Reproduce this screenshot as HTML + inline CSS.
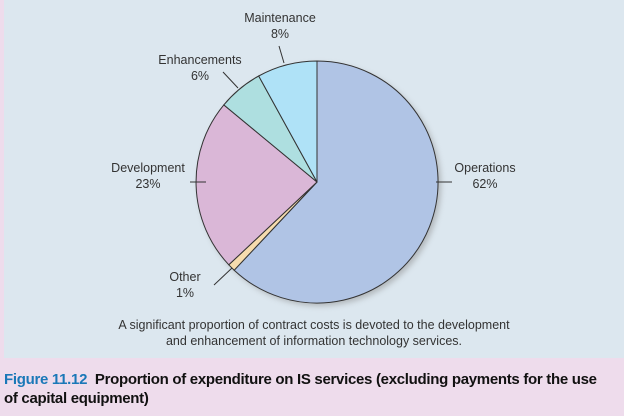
<!DOCTYPE html>
<html><head><style>
html,body{margin:0;padding:0;}
body{width:624px;height:416px;background:#eedcec;position:relative;overflow:hidden;font-family:"Liberation Sans",sans-serif;}
.panel{position:absolute;left:4px;top:0;width:620px;height:358px;background:#dce7ef;}
.t{position:absolute;font-size:12.5px;color:#333;text-align:center;line-height:16px;}
.cap{position:absolute;left:4px;width:620px;top:317px;text-align:center;font-size:12.5px;color:#333;line-height:16px;}
.fig{position:absolute;left:4px;top:370px;font-size:15px;font-weight:bold;color:#111;line-height:19px;width:640px;letter-spacing:-0.3px;white-space:nowrap;}
.fig span{color:#1a78b8;}
</style></head><body>
<div class="panel"></div>
<svg width="624" height="416" style="position:absolute;left:0;top:0">
<defs><filter id="s" x="-20%" y="-20%" width="140%" height="140%"><feGaussianBlur stdDeviation="3"/></filter></defs>
<circle cx="320" cy="185" r="121" fill="#888" opacity="0.5" filter="url(#s)"/>
<g stroke="#333" stroke-width="1">
<path d="M317,182 L317,61 A121,121 0 1 1 234.2,270.2 Z" fill="#b0c4e5"/>
<path d="M317,182 L234.2,270.2 A121,121 0 0 1 228.8,264.8 Z" fill="#f6dcae"/>
<path d="M317,182 L228.8,264.8 A121,121 0 0 1 223.8,104.9 Z" fill="#dab7d7"/>
<path d="M317,182 L223.8,104.9 A121,121 0 0 1 258.7,76 Z" fill="#aedfe0"/>
<path d="M317,182 L258.7,76 A121,121 0 0 1 317,61 Z" fill="#afe2f7"/>
<line x1="284" y1="63" x2="279" y2="46"/>
<line x1="238" y1="88" x2="223" y2="72"/>
<line x1="190" y1="182" x2="206" y2="182"/>
<line x1="436" y1="182" x2="452" y2="182"/>
<line x1="232" y1="268" x2="214" y2="285"/>
</g>
</svg>
<div class="t" style="left:230px;top:10px;width:100px">Maintenance<br>8%</div>
<div class="t" style="left:145px;top:52px;width:110px">Enhancements<br>6%</div>
<div class="t" style="left:98px;top:160px;width:100px">Development<br>23%</div>
<div class="t" style="left:440px;top:160px;width:90px">Operations<br>62%</div>
<div class="t" style="left:155px;top:269px;width:60px">Other<br>1%</div>
<div class="cap">A significant proportion of contract costs is devoted to the development<br>and enhancement of information technology services.</div>
<div class="fig"><span>Figure 11.12</span>&nbsp; Proportion of expenditure on IS services (excluding payments for the use<br>of capital equipment)</div>
</body></html>
